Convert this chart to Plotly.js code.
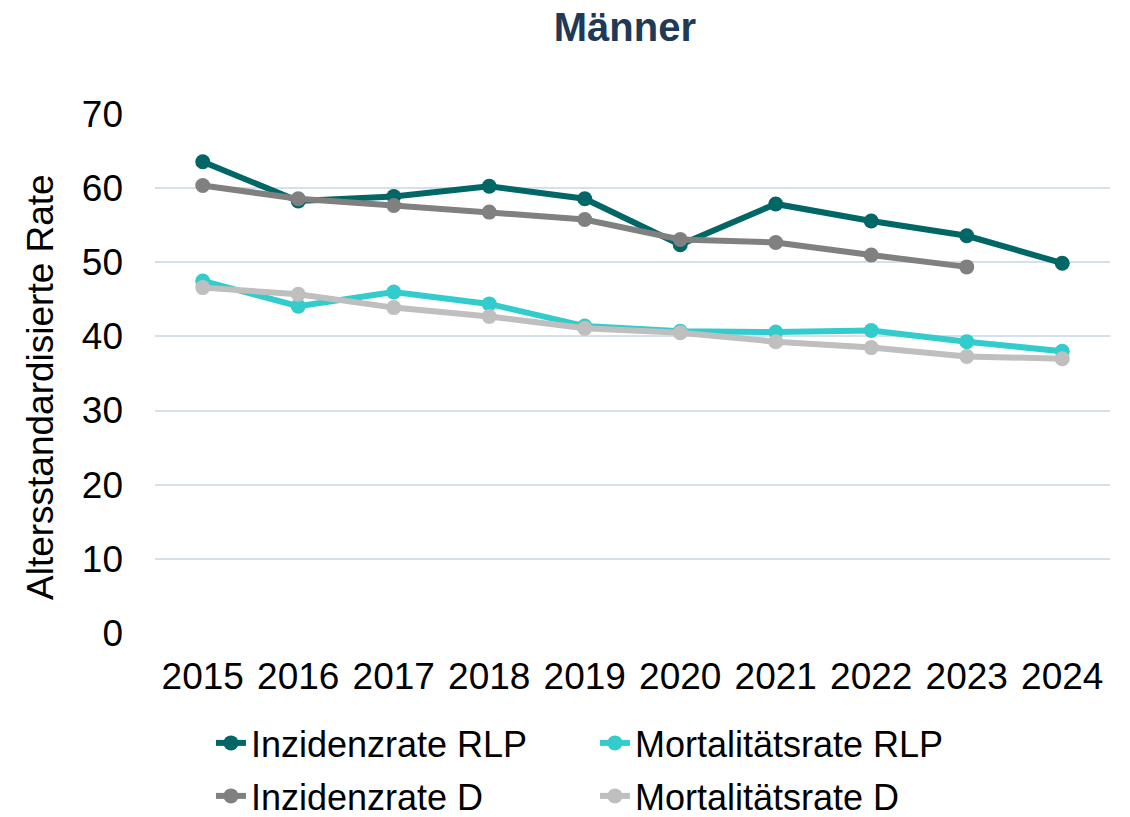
<!DOCTYPE html>
<html>
<head>
<meta charset="utf-8">
<script src="https://cdn.plot.ly/plotly-3.0.1.min.js"></script>
<style>html,body{margin:0;padding:0;background:#fff;}#chart{width:1130px;height:817px;}</style>
</head>
<body>
<div id="chart"></div>
<script>
const years = ['2015','2016','2017','2018','2019','2020','2021','2022','2023','2024'];
const inzidenzRLP = [63.6, 58.3, 58.9, 60.3, 58.6, 52.4, 57.9, 55.6, 53.6, 49.9];
const mortalitaetRLP = [47.5, 44.1, 46.0, 44.4, 41.4, 40.7, 40.6, 40.8, 39.3, 38.0];
const inzidenzD = [60.4, 58.6, 57.7, 56.8, 55.8, 53.1, 52.7, 51.0, 49.4, null];
const mortalitaetD = [46.6, 45.7, 43.9, 42.7, 41.1, 40.5, 39.3, 38.5, 37.3, 37.0];
const yTicks = [0, 10, 20, 30, 40, 50, 60, 70];

const font = 'Liberation Sans, Arial, sans-serif';
function tr(name, y, color, legend) {
  return {
    type: 'scatter', mode: 'lines+markers', name: name, x: years, y: y,
    line: {color: color, width: 6}, marker: {color: color, size: 15},
    connectgaps: false, legend: legend
  };
}
const data = [
  tr('Inzidenzrate RLP', inzidenzRLP, '#006666', 'legend'),
  tr('Mortalitätsrate RLP', mortalitaetRLP, '#33CCCC', 'legend'),
  tr('Inzidenzrate D', inzidenzD, '#808080', 'legend2'),
  tr('Mortalitätsrate D', mortalitaetD, '#BFBFBF', 'legend2')
];
const legendBase = {orientation: 'h', x: 0.0586, xanchor: 'left', yref: 'container', yanchor: 'middle',
  entrywidth: 339, entrywidthmode: 'pixels', font: {size: 36}, traceorder: 'normal', bgcolor: 'rgba(0,0,0,0)'};
const layout = {
  width: 1130, height: 817,
  margin: {l: 155, r: 20, t: 114, b: 184, autoexpand: false},
  paper_bgcolor: '#fff', plot_bgcolor: '#fff',
  font: {family: font, size: 37, color: '#000'},
  title: {text: '<b>Männer</b>', font: {family: font, size: 40, color: '#1F3A56'},
          x: 0.492, xref: 'paper', y: 1 - 27/817, yref: 'container', yanchor: 'middle'},
  xaxis: {type: 'category', range: [-0.5, 9.5], showgrid: false, zeroline: false,
          showline: false, ticks: '', ticklabelstandoff: 18, tickfont: {size: 37}},
  yaxis: {range: [-0.05, 70.05], tickvals: yTicks, showgrid: true, gridcolor: '#D6E0EC', gridwidth: 2,
          zeroline: false, showline: false, ticks: '', ticklabelstandoff: 31, tickfont: {size: 37}},
  annotations: [{text: 'Altersstandardisierte Rate', textangle: -90, xref: 'paper', yref: 'paper',
    x: (40 - 155) / 955, y: (633 - 387) / 519, xanchor: 'center', yanchor: 'middle', showarrow: false,
    font: {family: font, size: 37, color: '#000'}}],
  showlegend: true,
  legend: Object.assign({}, legendBase, {y: 1 - 743/817}),
  legend2: Object.assign({}, legendBase, {y: 1 - 796/817})
};
Plotly.newPlot('chart', data, layout, {displayModeBar: false, staticPlot: true});
</script>
</body>
</html>
